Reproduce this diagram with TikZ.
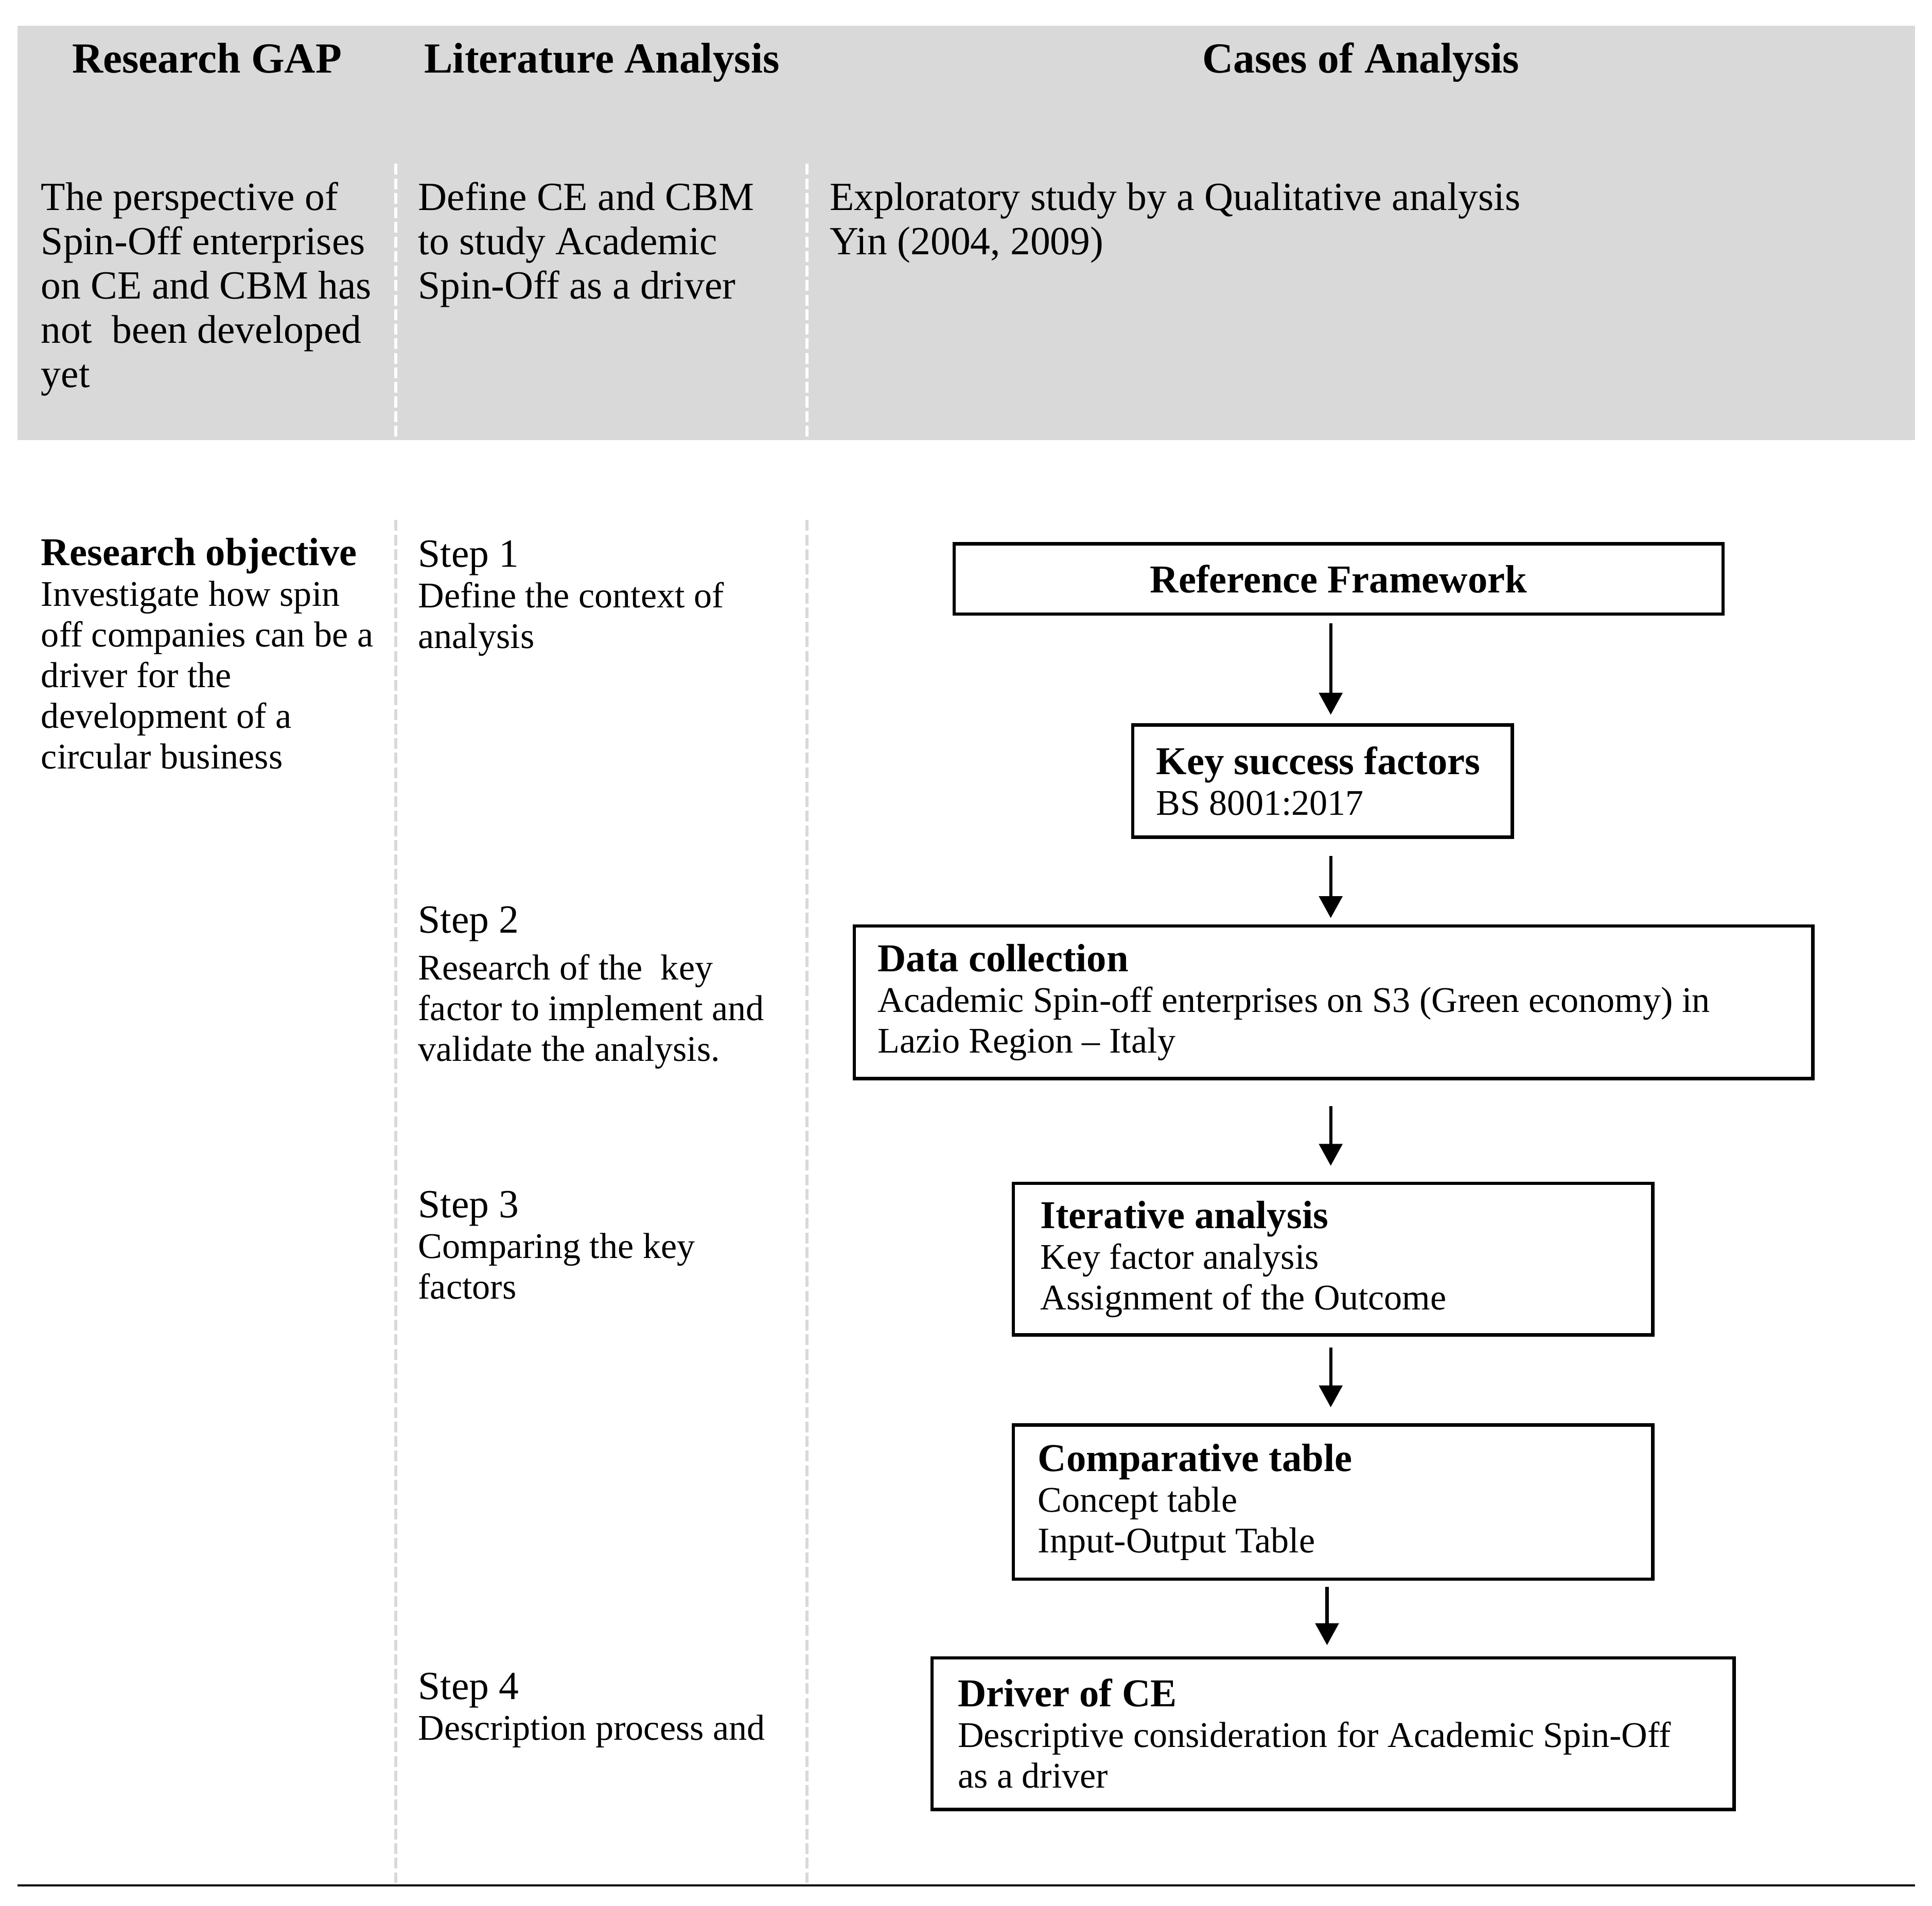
\documentclass[tikz,border=0pt]{standalone}
\usepackage{fontspec}
\setmainfont{Liberation Serif}
\usetikzlibrary{arrows.meta}
\definecolor{hdrgray}{HTML}{D9D9D9}
\newcommand\fhead{\fontsize{17.4}{18}\selectfont\bfseries}
\newcommand\fup{\fontsize{16.2}{18}\selectfont}
\newcommand\fbody{\fontsize{14.65}{16.5}\selectfont}
\newcommand\ftitle{\fontsize{16}{16.5}\selectfont\bfseries}
\newcommand\fstep{\fontsize{16.2}{16.5}\selectfont}
\tikzset{
  box/.style={draw, line width=1.35pt, anchor=north west, inner ysep=0pt, align=flush left, font=\fbody},
  arr/.style={line width=1.3pt, -{Triangle[width=9.4pt,length=8.9pt]}},
  coltext/.style={anchor=base west, inner sep=0pt, align=flush left},
  headtext/.style={anchor=base, inner sep=0pt, font=\fhead},
  whitedash/.style={draw=white, line width=1.25pt, dash pattern=on 4.4pt off 1.5pt},
  graydash/.style={draw=hdrgray, line width=1.25pt, dash pattern=on 4.4pt off 1.5pt}
}
\begin{document}
\begin{tikzpicture}[x=0.5pt,y=-0.5pt]
\useasboundingbox (0,0) rectangle (1568,1546.3);
% header band
\fill[hdrgray] (14,21) rectangle (1554,357);
\draw[whitedash] (321,133) -- (321,357);
\draw[whitedash] (655,133) -- (655,357);
\draw[graydash] (321,422) -- (321,1528);
\draw[graydash] (655,422) -- (655,1528);
\draw[line width=1pt] (14,1530) -- (1554,1530);

\node[headtext] (h1) at (168,59) {Research GAP};
\node[headtext] (h2) at (488.5,59) {Literature Analysis};
\node[headtext] (h3) at (1104.5,59) {Cases of Analysis};

% anchors: base of a multi-line node = baseline of its last line
\node[coltext, font=\fup] (gaptxt) at (33,314.5) {The perspective of\\Spin-Off enterprises\\on CE and CBM has\\not~\ been developed\\yet};
\node[coltext, font=\fup] (littxt) at (339,242.5) {Define CE and CBM\\to study Academic\\Spin-Off as a driver};
\node[coltext, font=\fup] (casetxt) at (673,206.5) {Exploratory study by a Qualitative analysis\\Yin (2004, 2009)};

% lower columns
\node[coltext, font=\fbody] (obj) at (33,624) {{\ftitle Research objective}\\Investigate how spin\\off companies can be a\\driver for the\\development of a\\circular business};
\node[coltext, font=\fbody] (s1) at (339,526) {{\fstep Step 1}\\Define the context of\\analysis};
\node[coltext, font=\fbody] (s2) at (339,861) {{\fstep Step 2}\\[2.5pt]Research of the~\ key\\factor to implement and\\validate the analysis.};
\node[coltext, font=\fbody] (s3) at (339,1054) {{\fstep Step 3}\\Comparing the key\\factors};
\node[coltext, font=\fbody] (s4) at (339,1412) {{\fstep Step 4}\\Description process and};

% flow boxes
\node[box, align=center, minimum width=312pt, minimum height=28.5pt, font=\ftitle] (rf) at (773,440) {Reference Framework};
\node[box, minimum width=154pt, minimum height=45.5pt, inner xsep=9.5pt, text width=135pt] (ksf) at (918,587) {{\ftitle Key success factors}\\BS 8001:2017};
\node[box, minimum width=389pt, minimum height=62pt, inner xsep=9.5pt, text width=370pt] (dc) at (692,750) {{\ftitle Data collection}\\Academic Spin-off enterprises on S3 (Green economy) in\\Lazio Region \textendash{} Italy};
\node[box, minimum width=259.5pt, minimum height=61.5pt, inner xsep=11pt, text width=237.5pt] (ia) at (821,959) {{\ftitle Iterative analysis}\\Key factor analysis\\Assignment of the Outcome};
\node[box, minimum width=259.5pt, minimum height=62.5pt, inner xsep=10pt, text width=239.5pt] (ct) at (821,1155) {{\ftitle Comparative table}\\Concept table\\Input-Output Table};
\node[box, minimum width=325.5pt, minimum height=61.5pt, inner xsep=10.5pt, text width=304.5pt] (dr) at (755,1344) {{\ftitle Driver of CE}\\Descriptive consideration for Academic Spin-Off\\as a driver};

\coordinate (ax) at (1080,0);
\coordinate (axb) at (1077,0);
\draw[arr, shorten <=3pt, shorten >=3.5pt] (rf.south -| ax) -- (ksf.north -| ax);
\draw[arr, shorten <=7pt, shorten >=2.5pt] (ksf.south -| ax) -- (dc.north -| ax);
\draw[arr, shorten <=10.5pt, shorten >=6.5pt] (dc.south -| ax) -- (ia.north -| ax);
\draw[arr, shorten <=4.5pt, shorten >=6.5pt] (ia.south -| ax) -- (ct.north -| ax);
\draw[arr, shorten <=2.5pt, shorten >=4.5pt] (ct.south -| axb) -- (dr.north -| axb);
\end{tikzpicture}
\end{document}
